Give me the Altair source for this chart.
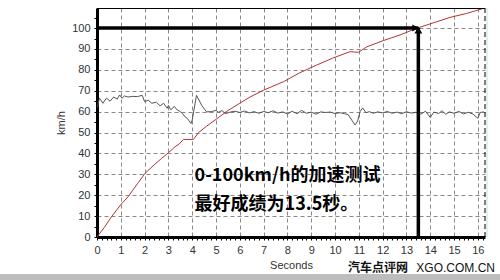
import altair as alt
import pandas as pd

# ---- data ----
red_t = [0, 0.3, 0.61, 1.0, 1.31, 1.7, 2.02, 2.4, 2.72, 3.0, 3.28, 3.45, 3.63, 4.05, 4.26, 4.6, 4.96,
         5.5, 6.0, 6.43, 7.0, 7.83, 8.5, 9.23, 9.9, 10.63, 10.98, 11.33, 12.03, 12.73, 13.43, 14.13,
         14.83, 15.53, 16.23]
red_v = [0, 4.5, 9.7, 15.5, 19.3, 25.5, 30.5, 34.5, 37.7, 40.3, 43.2, 44.5, 46.7, 46.7, 49.9, 53, 56,
         60.5, 64, 67, 70.3, 74.3, 78.5, 82.3, 85.6, 88.7, 88.4, 91, 94, 96.7, 99.9, 102.5,
         105.1, 107, 109.4]

gray_t = [0.02, 0.1, 0.25, 0.4, 0.55, 0.7, 0.85, 0.95, 1.05, 1.15, 1.3, 1.5, 1.7, 1.9, 2.0, 2.15, 2.3,
          2.5, 2.65, 2.8, 2.95, 3.0, 3.1, 3.25, 3.35, 3.5, 3.6, 3.7, 3.8, 3.95, 4.0, 4.18, 4.4, 4.6,
          4.8, 5.0, 5.1, 5.25, 5.4, 5.6, 5.8, 6.0, 6.2, 6.4, 6.6, 6.8, 7.0, 7.2, 7.4, 7.6, 7.8, 8.0,
          8.2, 8.4, 8.6, 8.8, 9.0, 9.2, 9.4, 9.6, 9.8, 10.0, 10.2, 10.4, 10.55, 10.7, 10.84, 10.95,
          11.05, 11.16, 11.3, 11.45, 11.6, 11.8, 12.0, 12.2, 12.4, 12.6, 12.8, 13.0, 13.2, 13.4, 13.6,
          13.8, 14.0, 14.15, 14.35, 14.5, 14.65, 14.8, 15.0, 15.2, 15.4, 15.6, 15.8, 16.0, 16.1, 16.25]
gray_v = [62, 66.5, 64, 66.5, 65, 67, 66, 68, 66.4, 67.5, 67, 67.3, 67.2, 67.8, 64.8, 65.5, 64,
          64.5, 62.8, 64, 61.6, 63, 60.9, 62.5, 61, 60, 59, 57.5, 56.7, 54.3, 56, 67.8, 63, 59.9,
          60, 60.6, 59.7, 60.5, 59, 59.8, 60.2, 59.6, 60.3, 59.4, 60.0, 59.2, 60.1, 59.5, 60.4, 59.3, 59.9, 58.9,
          60.2, 59.0, 60.6, 59.2, 59.8, 58.8, 59.9, 59.6, 59.8, 59.1, 59.5, 59.0, 58.6, 56.0, 53.6, 55.5,
          60.0, 61.8, 59.5, 60.0, 59.2, 59.9, 59.4, 60.1, 59.2, 59.8, 59.0, 60.0, 59.3, 59.7, 58.8,
          60.2, 57.2, 59.8, 59.1, 60.4, 58.7, 59.9, 59.2, 60.1, 58.9, 59.7, 58.8, 56.8, 59.6, 59.9]

x_ticks = [i / 5 for i in range(82)]
y_ticks = [i * 5 for i in range(22)]

target_time = 13.5
target_speed = 100

note_lines = ["0-100km/h的加速测试", "最好成绩为13.5秒。"]
note_x = [4.1, 4.1]
note_y = [29.4, 15.1]

watermark_cn = "汽车点评网"
watermark_en = "XGO.COM.CN"

# ---- chart ----
W, H = 388, 229
xs = alt.Scale(domain=[0, 16.3], nice=False, zero=False)
ys = alt.Scale(domain=[0, 109.6], nice=False)

x_axis = alt.Axis(
    values=x_ticks, title="Seconds",
    labelExpr="datum.value % 1 == 0 ? format(datum.value, 'd') : ''",
    labelOverlap=False, labelBound=False, labelFlush=False,
    gridOpacity={"condition": {"test": "datum.value % 1 == 0 && datum.value > 0", "value": 1}, "value": 0},
    labelPadding=4, titlePadding=4,
)
y_axis = alt.Axis(
    values=y_ticks, title="km/h",
    labelExpr="datum.value % 10 == 0 ? format(datum.value, 'd') : ''",
    labelOverlap=False, labelBound=False, labelFlush=False,
    gridOpacity={"condition": {"test": "datum.value % 10 == 0 && datum.value > 0", "value": 1}, "value": 0},
    labelPadding=4, titlePadding=5,
)


def X(f):
    return alt.X(f, scale=xs, axis=x_axis, title="Seconds")


def Y(f):
    return alt.Y(f, scale=ys, axis=y_axis, title="km/h")


red_df = pd.DataFrame({"t": red_t, "v": red_v})
gray_df = pd.DataFrame({"t": gray_t, "v": gray_v})

gray = alt.Chart(gray_df).mark_line(color="#555555", strokeWidth=1).encode(
    x=X("t:Q"), y=Y("v:Q"),
)
red = alt.Chart(red_df).mark_line(color="#b03535", strokeWidth=1).encode(
    x=X("t:Q"), y=Y("v:Q"),
)

one = pd.DataFrame({"a": [0]})
tgt = pd.DataFrame({"t": [target_time], "v": [target_speed], "z": [0], "t0": [0]})

h_arrow = alt.Chart(tgt).mark_rule(color="black", strokeWidth=3.5).encode(
    x=X("t0:Q"), x2=alt.X2("t"), y=Y("v:Q"),
)
v_arrow = alt.Chart(tgt).mark_rule(color="black", strokeWidth=3.5).encode(
    x=X("t:Q"), y=Y("z:Q"), y2=alt.Y2("v"),
)
head_up = alt.Chart(tgt).mark_point(shape="triangle-up", filled=True, color="black", size=60, opacity=1, yOffset=2).encode(
    x=X("t:Q"), y=Y("v:Q"),
)
head_right = alt.Chart(tgt).mark_point(shape="triangle-right", filled=True, color="black", size=50, opacity=1, xOffset=-3).encode(
    x=X("t:Q"), y=Y("v:Q"),
)

note_df = pd.DataFrame({"t": note_x, "v": note_y, "s": note_lines})
note = alt.Chart(note_df).mark_text(
    align="left", baseline="middle", fontSize=18, font="Noto Sans CJK SC", fontWeight="bold", color="black"
).encode(
    x=X("t:Q"), y=Y("v:Q"), text="s:N",
)

top_line = alt.Chart(one).mark_rule(color="black", strokeWidth=1).encode(
    x=alt.value(0), x2=alt.value(W), y=alt.value(0.5)
)
right_line = alt.Chart(one).mark_rule(color="black", strokeWidth=1, strokeDash=[5, 3]).encode(
    x=alt.value(W), y=alt.value(0), y2=alt.value(H)
)
cyan_strip = alt.Chart(one).mark_rule(color="#dff2f2", strokeWidth=2).encode(
    x=alt.value(W + 2), y=alt.value(0), y2=alt.value(H)
)
bottom_bar = alt.Chart(one).mark_rule(color="#bdbdbd", strokeWidth=6).encode(
    x=alt.value(-97), x2=alt.value(W + 15), y=alt.value(H + 40)
)
wm_cn = alt.Chart(pd.DataFrame({"s": [watermark_cn]})).mark_text(
    align="right", baseline="middle", fontSize=12, font="Noto Sans CJK SC", fontWeight="bold", color="#111"
).encode(x=alt.value(W - 77), y=alt.value(H + 31), text="s:N")
wm_en = alt.Chart(pd.DataFrame({"s": [watermark_en]})).mark_text(
    align="right", baseline="middle", fontSize=12, font="Liberation Sans", color="#111"
).encode(x=alt.value(W + 10), y=alt.value(H + 31), text="s:N")

chart = alt.layer(
    gray, red, h_arrow, v_arrow, head_up, head_right, note,
    top_line, right_line, cyan_strip, bottom_bar, wm_cn, wm_en,
).properties(
    width=W, height=H,
    autosize=alt.AutoSizeParams(type="none"),
    padding={"left": 97, "top": 8, "right": 15, "bottom": 43},
    background="white",
).configure_view(stroke=None).configure_axis(
    domainColor="black", domainWidth=3,
    tickColor="black", tickSize=3, tickWidth=1,
    gridColor="#888888", gridDash=[4, 3], gridWidth=1,
    labelFont="Liberation Sans", labelFontSize=11, labelColor="#333333",
    titleFont="Liberation Sans", titleFontSize=11, titleColor="#333333", titleFontWeight="normal",
)

chart.save("out.html", embed_options={"renderer": "svg", "actions": False})
